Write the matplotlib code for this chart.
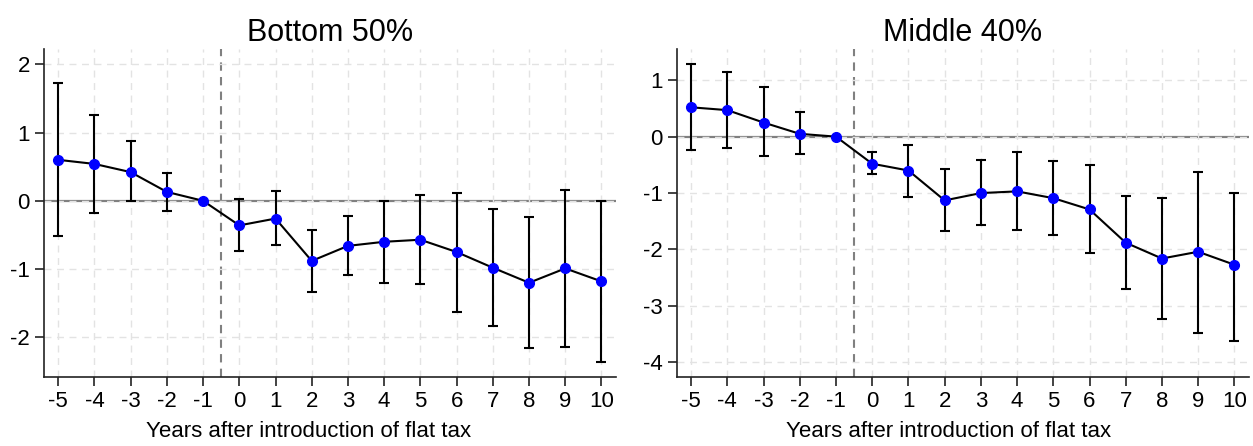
import matplotlib
matplotlib.use("Agg")
from matplotlib import pyplot as plt

plt.rcParams['font.family'] = ['Liberation Sans', 'DejaVu Sans']

years = [-5, -4, -3, -2, -1, 0, 1, 2, 3, 4, 5, 6, 7, 8, 9, 10]

# Bottom 50%
bottom_est = [0.60, 0.54, 0.42, 0.13, 0.0, -0.36, -0.26, -0.88, -0.66, -0.60, -0.57, -0.75, -0.98, -1.20, -0.99, -1.18]
bottom_hi = [1.72, 1.26, 0.87, 0.41, 0.0, 0.03, 0.14, -0.43, -0.22, 0.00, 0.08, 0.12, -0.12, -0.23, 0.16, 0.00]
bottom_lo = [-0.51, -0.18, -0.01, -0.15, 0.0, -0.74, -0.65, -1.33, -1.09, -1.20, -1.22, -1.63, -1.83, -2.15, -2.14, -2.36]

# Middle 40%
middle_est = [0.52, 0.47, 0.25, 0.05, 0.0, -0.48, -0.60, -1.13, -1.00, -0.97, -1.09, -1.29, -1.88, -2.16, -2.04, -2.27]
middle_hi = [1.29, 1.15, 0.88, 0.44, 0.0, -0.27, -0.14, -0.57, -0.42, -0.28, -0.44, -0.50, -1.06, -1.08, -0.63, -1.00]
middle_lo = [-0.24, -0.21, -0.35, -0.31, 0.0, -0.67, -1.07, -1.68, -1.57, -1.65, -1.74, -2.07, -2.70, -3.24, -3.48, -3.63]

panels = [
    ("Bottom 50%", bottom_est, bottom_hi, bottom_lo, [-2, -1, 0, 1, 2], (-2.58, 2.22)),
    ("Middle 40%", middle_est, middle_hi, middle_lo, [-4, -3, -2, -1, 0, 1], (-4.26, 1.55)),
]

fig = plt.figure(figsize=(12.53, 4.46), dpi=100)
lefts = [0.0349, 0.5400]
label_x = [0.4636, 0.476]

for left, lx, (title, est, hi, lo, yt, ylim) in zip(lefts, label_x, panels):
    ax = fig.add_axes([left, 0.1547, 0.4567, 0.735])
    yerr = [[e - l for e, l in zip(est, lo)], [h - e for e, h in zip(est, hi)]]

    ax.grid(True, color='#e3e3e3', linestyle=(0, (5, 4)), linewidth=1.0, zorder=0)
    ax.axhline(0, color='#808080', linewidth=1.6, zorder=1)
    ax.axvline(-0.5, color='#808080', linestyle=(0, (4, 3)), linewidth=1.5, zorder=1)

    ax.errorbar(years, est, yerr=yerr, fmt='none', ecolor='black', elinewidth=1.5,
                capsize=3.5, capthick=1.5, zorder=2)
    ax.plot(years, est, color='black', linewidth=1.5, zorder=3)
    ax.plot(years, est, 'o', color='blue', markersize=7, zorder=4)

    ax.set_xlim(-5.4, 10.4)
    ax.set_ylim(*ylim)
    ax.set_xticks(years)
    ax.set_yticks(yt)
    ax.set_xticklabels([str(y) for y in years])
    ax.set_yticklabels([str(v) for v in yt])
    ax.tick_params(labelsize=16, length=6.5, width=1.2, color='#222222')
    ax.set_title(title, fontsize=22, pad=6)
    ax.set_xlabel("Years after introduction of flat tax", fontsize=16)
    ax.xaxis.set_label_coords(lx, -0.135)

    for s in ['top', 'right']:
        ax.spines[s].set_visible(False)
    for s in ['left', 'bottom']:
        ax.spines[s].set_color('#222222')
        ax.spines[s].set_linewidth(1.2)

fig.savefig('out.png', dpi=100)
